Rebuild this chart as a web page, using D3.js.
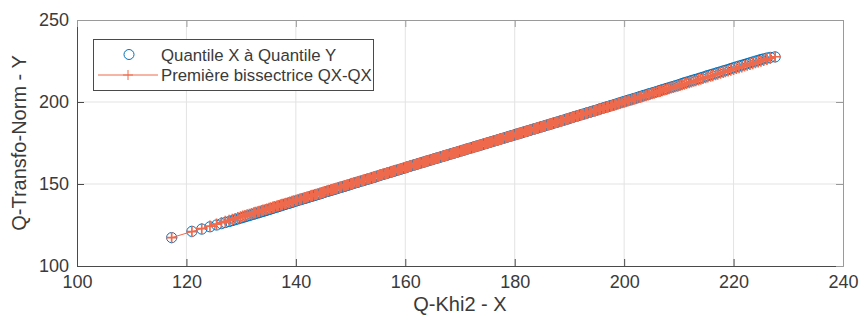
<!DOCTYPE html>
<html>
<head>
<meta charset="utf-8">
<script src="https://cdn.jsdelivr.net/npm/d3@7/dist/d3.min.js"></script>
<style>
  html, body { margin: 0; padding: 0; background: #ffffff; }
  svg { display: block; }
  text { font-family: "Liberation Sans", Arial, Helvetica, sans-serif; }
</style>
</head>
<body>
<svg id="chart" width="861" height="325"></svg>
<script>
// ---------------- data ----------------
const xTicks = [100, 120, 140, 160, 180, 200, 220, 240];
const yTicks = [100, 150, 200, 250];
const xLabel = "Q-Khi2 - X";
const yLabel = "Q-Transfo-Norm - Y";
const seriesNames = ["Quantile X à Quantile Y", "Première bissectrice QX-QX"];

// quantiles of X (Q-Khi2)
const xQuantiles = [
  117.3,121.0,122.8,124.3,125.5,126.4,127.1,127.8,128.4,128.9,
  129.4,129.9,130.3,130.7,131.1,131.5,131.9,132.3,132.6,133.0,
  133.3,133.7,134.0,134.4,134.7,135.1,135.4,135.8,136.1,136.5,
  136.8,137.2,137.5,137.9,138.2,138.6,138.9,139.3,139.6,140.0,
  140.3,140.7,141.0,141.4,141.7,142.0,142.3,142.7,143.0,143.4,
  143.7,144.0,144.4,144.7,145.0,145.3,145.7,146.0,146.4,146.7,
  147.0,147.3,147.6,148.0,148.3,148.7,149.0,149.3,149.6,150.0,
  150.3,150.6,151.0,151.3,151.6,152.0,152.3,152.6,153.0,153.3,
  153.6,154.0,154.3,154.6,155.0,155.3,155.6,155.9,156.3,156.6,
  156.9,157.3,157.6,157.9,158.2,158.6,158.9,159.2,159.5,159.9,
  160.2,160.5,160.8,161.1,161.5,161.8,162.1,162.4,162.7,163.1,
  163.4,163.7,164.0,164.3,164.7,165.0,165.3,165.6,165.9,166.2,
  166.6,166.9,167.2,167.5,167.8,168.2,168.5,168.8,169.1,169.4,
  169.7,170.1,170.4,170.7,171.0,171.3,171.6,171.9,172.3,172.6,
  172.9,173.2,173.5,173.8,174.1,174.5,174.8,175.1,175.4,175.7,
  176.0,176.4,176.7,177.0,177.3,177.6,177.9,178.3,178.6,178.9,
  179.2,179.5,179.8,180.2,180.5,180.8,181.1,181.4,181.8,182.1,
  182.4,182.7,183.0,183.4,183.7,184.0,184.3,184.7,185.0,185.3,
  185.6,186.0,186.3,186.6,186.9,187.3,187.6,187.9,188.3,188.6,
  188.9,189.3,189.6,189.9,190.3,190.6,190.9,191.3,191.6,192.0,
  192.3,192.6,193.0,193.3,193.7,194.0,194.4,194.7,195.0,195.4,
  195.7,196.1,196.4,196.8,197.1,197.5,197.8,198.2,198.5,198.9,
  199.2,199.6,200.0,200.3,200.7,201.0,201.4,201.8,202.1,202.5,
  202.9,203.2,203.6,204.0,204.4,204.7,205.1,205.5,205.9,206.3,
  206.6,207.0,207.4,207.8,208.2,208.6,209.0,209.4,209.8,210.2,
  210.6,211.0,211.4,211.9,212.3,212.7,213.1,213.6,214.0,214.4,
  214.9,215.3,215.8,216.2,216.7,217.1,217.6,218.1,218.5,219.0,
  219.5,220.0,220.5,221.0,221.5,222.0,222.5,223.0,223.5,224.0,
  224.5,225.0,225.5,226.1,226.7,227.6
];

// quantiles of Y (Q-Transfo-Norm)
const yQuantiles = [
  117.3,121.1,122.5,123.9,125.0,125.8,126.5,127.1,127.7,128.2,
  128.7,129.2,129.6,130.0,130.4,130.8,131.2,131.6,131.9,132.3,
  132.6,133.0,133.3,133.7,134.0,134.4,134.8,135.2,135.5,135.9,
  136.2,136.6,137.0,137.4,137.7,138.1,138.4,138.8,139.2,139.6,
  139.9,140.3,140.6,141.0,141.3,141.6,141.9,142.3,142.6,143.0,
  143.3,143.6,144.0,144.3,144.7,145.0,145.4,145.7,146.1,146.4,
  146.7,147.0,147.3,147.7,148.0,148.4,148.7,149.0,149.3,149.8,
  150.1,150.4,150.8,151.1,151.4,151.8,152.1,152.4,152.8,153.1,
  153.4,153.8,154.1,154.4,154.9,155.2,155.5,155.8,156.2,156.5,
  156.8,157.2,157.5,157.8,158.1,158.5,158.8,159.1,159.4,159.8,
  160.2,160.5,160.8,161.1,161.5,161.8,162.1,162.4,162.7,163.1,
  163.4,163.7,164.0,164.3,164.7,165.0,165.3,165.6,165.9,166.2,
  166.6,166.9,167.2,167.5,167.8,168.2,168.5,168.8,169.1,169.4,
  169.7,170.1,170.4,170.7,171.0,171.3,171.6,171.9,172.3,172.6,
  172.9,173.2,173.5,173.8,174.1,174.5,174.8,175.1,175.4,175.7,
  176.0,176.4,176.7,177.0,177.3,177.6,177.9,178.3,178.6,178.9,
  179.2,179.5,179.8,180.2,180.5,180.8,181.1,181.4,181.8,182.1,
  182.4,182.7,183.0,183.4,183.7,184.0,184.3,184.7,185.0,185.3,
  185.6,186.0,186.3,186.6,186.9,187.3,187.6,187.9,188.3,188.6,
  188.9,189.3,189.6,189.9,190.4,190.7,191.0,191.4,191.7,192.1,
  192.4,192.7,193.1,193.4,193.8,194.1,194.5,194.8,195.1,195.5,
  195.9,196.3,196.6,197.0,197.3,197.7,198.0,198.4,198.7,199.1,
  199.5,199.9,200.3,200.6,201.0,201.3,201.7,202.1,202.4,202.8,
  203.3,203.6,204.0,204.4,204.8,205.1,205.5,205.9,206.3,206.7,
  207.1,207.5,207.9,208.3,208.7,209.1,209.5,209.9,210.3,210.7,
  211.3,211.7,212.1,212.6,213.0,213.4,213.8,214.3,214.7,215.1,
  215.7,216.1,216.6,217.0,217.5,217.9,218.4,218.9,219.3,219.8,
  220.4,220.9,221.4,221.9,222.4,222.9,223.4,223.9,224.4,224.9,
  225.4,225.9,226.3,226.8,227.2,227.5
];
if (xQuantiles.length !== yQuantiles.length) throw new Error("length mismatch " + xQuantiles.length + " vs " + yQuantiles.length);

// ---------------- layout / style ----------------
const plot = { left: 77, right: 843, top: 20, bottom: 266 };
const blue = "#0072BD";
const red = "#EF6A4C";
const axisColor = "#4a4a4a";
const textColor = "#3a3a3a";
const gridColor = "#e3e3e3";
const circleR = 5.1;
const plusR = 5.7;

const svg = d3.select("#chart");
const x = d3.scaleLinear().domain([100, 240]).range([plot.left, plot.right]);
const y = d3.scaleLinear().domain([100, 250]).range([plot.bottom, plot.top]);

// grid
const grid = svg.append("g");
grid.selectAll("line.gx").data(xTicks.slice(1, -1)).join("line")
  .attr("x1", d => x(d)).attr("x2", d => x(d))
  .attr("y1", plot.top).attr("y2", plot.bottom)
  .attr("stroke", gridColor).attr("stroke-width", 1);
grid.selectAll("line.gy").data(yTicks.slice(1, -1)).join("line")
  .attr("y1", d => y(d)).attr("y2", d => y(d))
  .attr("x1", plot.left).attr("x2", plot.right)
  .attr("stroke", gridColor).attr("stroke-width", 1);

// series 1: circles
const pts = xQuantiles.map((v, i) => ({ qx: v, qy: yQuantiles[i] }));
svg.append("g").selectAll("circle").data(pts).join("circle")
  .attr("cx", d => x(d.qx)).attr("cy", d => y(d.qy)).attr("r", circleR)
  .attr("fill", "none").attr("stroke", blue).attr("stroke-width", 1);

// series 2: bisector line with + markers
const line = d3.line().x(d => x(d)).y(d => y(d));
svg.append("path").datum(xQuantiles).attr("d", line)
  .attr("fill", "none").attr("stroke", red).attr("stroke-width", 1);
const plusPath = (cx, cy, s) => `M${cx - s},${cy}H${cx + s}M${cx},${cy - s}V${cy + s}`;
svg.append("path")
  .attr("d", xQuantiles.map(v => plusPath(x(v), y(v), plusR)).join(""))
  .attr("fill", "none").attr("stroke", red).attr("stroke-width", 1.7);

// axes
const tickLen = 7;
const axB = svg.append("g").attr("transform", `translate(0,${plot.bottom})`)
  .call(d3.axisBottom(x).tickValues(xTicks).tickSizeInner(-tickLen).tickSizeOuter(0).tickPadding(9));
const axL = svg.append("g").attr("transform", `translate(${plot.left},0)`)
  .call(d3.axisLeft(y).tickValues(yTicks).tickSizeInner(-tickLen).tickSizeOuter(0).tickPadding(8));
const axT = svg.append("g").attr("transform", `translate(0,${plot.top})`)
  .call(d3.axisTop(x).tickValues(xTicks).tickSizeInner(-tickLen).tickSizeOuter(0).tickFormat(""));
const axR = svg.append("g").attr("transform", `translate(${plot.right},0)`)
  .call(d3.axisRight(y).tickValues(yTicks).tickSizeInner(-tickLen).tickSizeOuter(0).tickFormat(""));
[axB, axL, axT, axR].forEach(g => {
  g.selectAll("path.domain").attr("stroke", axisColor).attr("stroke-width", 1);
  g.selectAll(".tick line").attr("stroke", axisColor).attr("stroke-width", 1);
  g.selectAll(".tick text").attr("fill", textColor).style("font-size", "18px")
    .style("font-family", '"Liberation Sans", Arial, sans-serif');
});
axT.selectAll("path.domain, .tick line").attr("stroke", "#9a9a9a");
axR.selectAll("path.domain, .tick line").attr("stroke", "#9a9a9a");

// axis labels
svg.append("text").attr("x", (plot.left + plot.right) / 2).attr("y", 311)
  .attr("text-anchor", "middle").attr("fill", textColor).style("font-size", "20px").text(xLabel);
svg.append("text").attr("transform", `translate(26,${(plot.top + plot.bottom) / 2}) rotate(-90)`)
  .attr("text-anchor", "middle").attr("fill", textColor).style("font-size", "20px").text(yLabel);

// legend
const lg = svg.append("g");
lg.append("rect").attr("x", 93.5).attr("y", 39.5).attr("width", 280).attr("height", 51)
  .attr("fill", "#ffffff").attr("stroke", "#4a4a4a").attr("stroke-width", 1);
lg.append("circle").attr("cx", 129).attr("cy", 54.5).attr("r", 5)
  .attr("fill", "none").attr("stroke", blue).attr("stroke-width", 1);
lg.append("line").attr("x1", 98).attr("x2", 158).attr("y1", 75).attr("y2", 75)
  .attr("stroke", red).attr("stroke-width", 1);
lg.append("path").attr("d", plusPath(128, 75, 5)).attr("stroke", red).attr("stroke-width", 1);
lg.selectAll("text.lt").data(seriesNames).join("text")
  .attr("x", 161).attr("y", (d, i) => 60.5 + i * 20.5)
  .attr("fill", textColor).style("font-size", "16.8px").text(d => d);
</script>
</body>
</html>
